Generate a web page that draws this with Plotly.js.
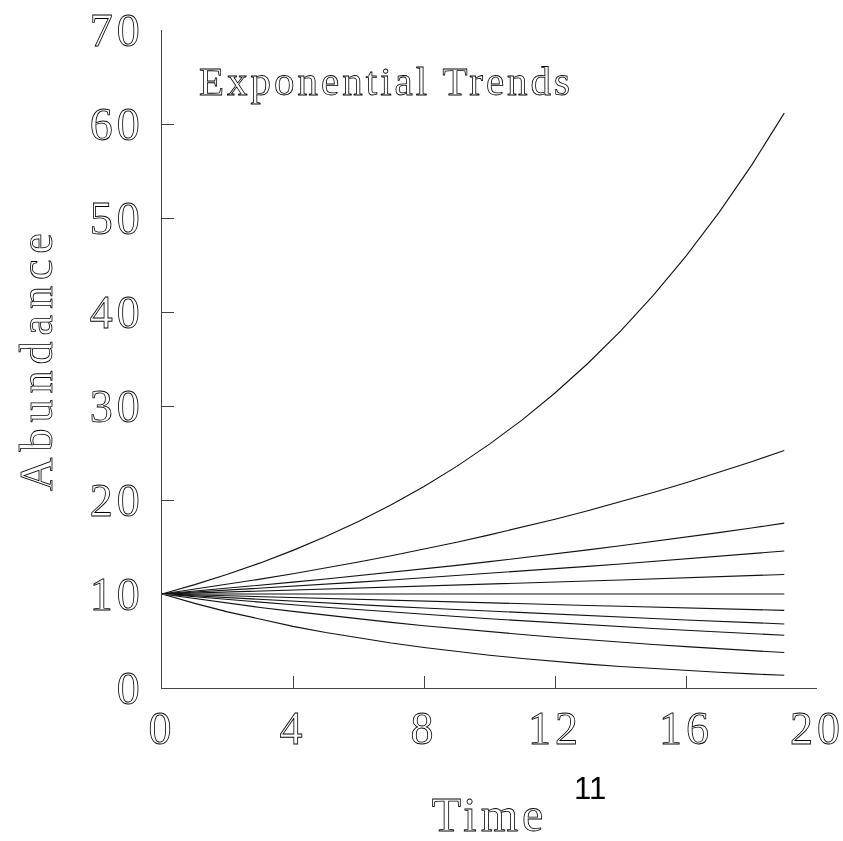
<!DOCTYPE html>
<html>
<head>
<meta charset="utf-8">
<script src="https://cdn.plot.ly/plotly-3.0.1.min.js"></script>
<style>
  html, body { margin: 0; padding: 0; background: #fff; }
  #chart { width: 843px; height: 841px; filter: grayscale(100%); }
  .xtick text, .ytick text, .g-xtitle text, .g-ytitle text, .annotation[data-index="0"] text {
    fill: #ffffff !important;
    stroke: #000000;
    stroke-width: 0.8px;
  }
  .xtick text, .ytick text { letter-spacing: 4px; }
  .g-xtitle text { letter-spacing: 4px; }
  .g-ytitle text { letter-spacing: 6px; }
  .annotation[data-index="0"] text { letter-spacing: 3px; }
</style>
</head>
<body>
<div id="chart"></div>
<script>
// Time steps
const time = [0,1,2,3,4,5,6,7,8,9,10,11,12,13,14,15,16,17,18,19];

// Abundance series
const seriesA = [10,11,12.1,13.31,14.64,16.11,17.72,19.49,21.44,23.58,25.94,28.53,31.38,34.52,37.97,41.77,45.95,50.54,55.6,61.16];
const seriesB = [10,10.5,11.03,11.58,12.16,12.76,13.4,14.07,14.77,15.51,16.29,17.1,17.96,18.86,19.8,20.79,21.83,22.92,24.07,25.27];
const seriesC = [10,10.3,10.61,10.93,11.26,11.59,11.94,12.3,12.67,13.05,13.44,13.84,14.26,14.69,15.13,15.58,16.05,16.53,17.02,17.54];
const seriesD = [10,10.2,10.4,10.61,10.82,11.04,11.26,11.49,11.72,11.95,12.19,12.43,12.68,12.94,13.19,13.46,13.73,14,14.28,14.57];
const seriesE = [10,10.1,10.2,10.3,10.41,10.51,10.62,10.72,10.83,10.94,11.05,11.16,11.27,11.38,11.49,11.61,11.73,11.84,11.96,12.08];
const seriesF = [10,10,10,10,10,10,10,10,10,10,10,10,10,10,10,10,10,10,10,10];
const seriesG = [10,9.9,9.8,9.7,9.61,9.51,9.41,9.32,9.23,9.14,9.04,8.95,8.86,8.78,8.69,8.6,8.51,8.43,8.35,8.26];
const seriesH = [10,9.8,9.6,9.41,9.22,9.04,8.86,8.68,8.51,8.34,8.17,8.01,7.85,7.69,7.54,7.39,7.24,7.09,6.95,6.81];
const seriesI = [10,9.7,9.41,9.13,8.85,8.59,8.33,8.08,7.84,7.6,7.37,7.15,6.94,6.73,6.53,6.33,6.14,5.96,5.78,5.61];
const seriesJ = [10,9.5,9.03,8.57,8.15,7.74,7.35,6.98,6.63,6.3,5.99,5.69,5.4,5.13,4.88,4.63,4.4,4.18,3.97,3.77];
const seriesK = [10,9,8.1,7.29,6.56,5.9,5.31,4.78,4.3,3.87,3.49,3.14,2.82,2.54,2.29,2.06,1.85,1.67,1.5,1.35];

const allSeries = [seriesA, seriesB, seriesC, seriesD, seriesE, seriesF, seriesG, seriesH, seriesI, seriesJ, seriesK];

const xTicks = [0, 4, 8, 12, 16, 20];
const yTicks = [0, 10, 20, 30, 40, 50, 60, 70];

const chartTitle = 'Exponential Trends';
const xTitle = 'Time';
const yTitle = 'Abundance';
const countLabel = String(allSeries.length);

const serif = '"Liberation Serif", "DejaVu Serif", serif';

const traces = allSeries.map(s => ({
  x: time,
  y: s,
  type: 'scatter',
  mode: 'lines',
  line: { color: '#111111', width: 1.1 },
  hoverinfo: 'skip',
  showlegend: false
}));

const axisCommon = {
  showline: true,
  linecolor: '#444444',
  linewidth: 1,
  ticks: 'inside',
  ticklen: 12,
  tickwidth: 1,
  tickcolor: '#444444',
  showgrid: false,
  zeroline: false,
  ticklabeloverflow: 'allow',
  tickfont: { family: serif, size: 46, color: '#000000' }
};

const layout = {
  width: 843,
  height: 841,
  paper_bgcolor: '#ffffff',
  plot_bgcolor: '#ffffff',
  margin: { l: 162, r: 26, t: 30, b: 153 },
  showlegend: false,
  xaxis: Object.assign({}, axisCommon, {
    range: [0, 20],
    tickvals: xTicks,
    ticktext: xTicks.map(String),
    ticklabelstandoff: 0,
    title: { text: xTitle, font: { family: serif, size: 48, color: '#000000' }, standoff: 48 }
  }),
  yaxis: Object.assign({}, axisCommon, {
    range: [0, 70],
    tickvals: yTicks,
    ticktext: yTicks.map(String),
    ticklabelstandoff: 8,
    title: { text: yTitle, font: { family: serif, size: 46, color: '#000000' }, standoff: 22 }
  }),
  annotations: [
    {
      text: chartTitle,
      xref: 'paper', yref: 'paper',
      x: 0.095, y: 0.922,
      xanchor: 'left', yanchor: 'middle',
      showarrow: false,
      font: { family: serif, size: 41, color: '#000000' }
    },
    {
      text: countLabel,
      xref: 'paper', yref: 'paper',
      x: 0.653, y: -0.152,
      xanchor: 'center', yanchor: 'middle',
      showarrow: false,
      font: { family: '"Liberation Sans", Arial, sans-serif', size: 31, color: '#000000' }
    }
  ]
};

Plotly.newPlot('chart', traces, layout, { staticPlot: true, displayModeBar: false });
</script>
</body>
</html>
